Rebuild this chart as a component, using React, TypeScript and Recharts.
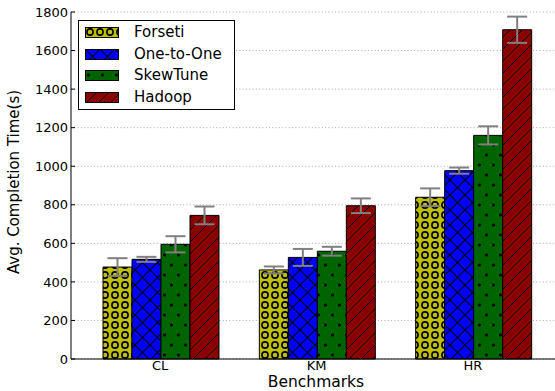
import React from "react"
import { BarChart, Bar, XAxis, YAxis, CartesianGrid, ErrorBar } from "recharts"

const categories = ["CL", "KM", "HR"]
const forseti = [477, 462, 839]
const forsetiErr = [46, 18, 46]
const oneToOne = [517, 527, 977]
const oneToOneErr = [13, 44, 16]
const skewTune = [595, 559, 1160]
const skewTuneErr = [42, 23, 47]
const hadoop = [745, 795, 1708]
const hadoopErr = [46, 38, 68]
const yTicks = [0, 200, 400, 600, 800, 1000, 1200, 1400, 1600, 1800]

const data = categories.map((name, i) => ({
  name,
  forseti: forseti[i],
  forsetiErr: forsetiErr[i],
  oneToOne: oneToOne[i],
  oneToOneErr: oneToOneErr[i],
  skewTune: skewTune[i],
  skewTuneErr: skewTuneErr[i],
  hadoop: hadoop[i],
  hadoopErr: hadoopErr[i],
}))

const series = [
  { key: "forseti", name: "Forseti", pat: "pForseti" },
  { key: "oneToOne", name: "One-to-One", pat: "pOne" },
  { key: "skewTune", name: "SkewTune", pat: "pSkew" },
  { key: "hadoop", name: "Hadoop", pat: "pHadoop" },
]

const font = "'DejaVu Sans', sans-serif"

// hatch fills, roughly like matplotlib's 'o', 'x', '.', '/'
function Patterns({ prefix }: { prefix: string }) {
  return (
    <defs>
      <pattern id={prefix + "pForseti"} width="10" height="10" patternUnits="userSpaceOnUse">
        <rect width="10" height="10" fill="#bfbf00" />
        <circle cx="5" cy="5" r="3.1" fill="none" stroke="#000" strokeWidth="1.6" />
      </pattern>
      <pattern id={prefix + "pOne"} width="15" height="15" patternUnits="userSpaceOnUse">
        <rect width="15" height="15" fill="#0000ff" />
        <path d="M-1,-1 L16,16 M16,-1 L-1,16" stroke="#000" strokeWidth="1.1" />
      </pattern>
      <pattern id={prefix + "pSkew"} width="14" height="20" patternUnits="userSpaceOnUse">
        <rect width="14" height="20" fill="#006400" />
        <circle cx="3.5" cy="5" r="1.6" fill="#000" />
        <circle cx="10.5" cy="15" r="1.6" fill="#000" />
      </pattern>
      <pattern id={prefix + "pHadoop"} width="12" height="12" patternUnits="userSpaceOnUse">
        <rect width="12" height="12" fill="#8b0000" />
        <path d="M-1,13 L13,-1" stroke="#000" strokeWidth="1" />
      </pattern>
    </defs>
  )
}

function LegendBox() {
  return (
    <div
      style={{
        position: "absolute",
        left: 78,
        top: 20,
        width: 155,
        height: 88,
        border: "1px solid #000",
        background: "#fff",
        fontFamily: font,
        fontSize: 15,
      }}
    >
      <svg width={1} height={1} style={{ position: "absolute" }}>
        <Patterns prefix="lg" />
      </svg>
      {series.map((s, i) => (
        <div key={s.key} style={{ position: "absolute", left: 6, top: 5 + i * 21.7, height: 13, display: "flex", alignItems: "center" }}>
          <svg width={34} height={11}>
            <rect x={0.5} y={0.5} width={33} height={10} fill={`url(#lg${s.pat})`} stroke="#000" strokeWidth={1} />
          </svg>
          <span style={{ marginLeft: 15, lineHeight: "13px" }}>{s.name}</span>
        </div>
      ))}
    </div>
  )
}

export default function App() {
  return (
    <div style={{ position: "absolute", left: 0, top: 0, width: 555, height: 391, overflow: "hidden", background: "#fff" }}>
      <BarChart
        width={563}
        height={391}
        data={data}
        margin={{ top: 12, right: 1, bottom: 0, left: 0 }}
        barCategoryGap={21}
        barGap={0}
      >
        <Patterns prefix="" />
        <CartesianGrid vertical={false} stroke="#a8a8a8" strokeDasharray="1 2.3" />
        <XAxis
          dataKey="name"
          height={32}
          padding={{ left: 11, right: 11 }}
          tickSize={-4}
          tickMargin={6}
          axisLine={{ stroke: "#000" }}
          tickLine={{ stroke: "#000" }}
          tick={{ fill: "#000", fontSize: 13, fontFamily: font }}
          label={{
            content: () => (
              <text x={316} y={387} textAnchor="middle" fontSize={15.5} fontFamily={font} fill="#000">
                Benchmarks
              </text>
            ),
          }}
        />
        <XAxis
          xAxisId="top"
          dataKey="name"
          orientation="top"
          height={0}
          padding={{ left: 11, right: 11 }}
          tickSize={-4}
          tickFormatter={() => ""}
          axisLine={{ stroke: "#000" }}
          tickLine={{ stroke: "#000" }}
        />
        <YAxis
          width={71}
          domain={[0, 1800]}
          ticks={yTicks}
          interval={0}
          tickSize={-4}
          tickMargin={7}
          axisLine={{ stroke: "#000" }}
          tickLine={{ stroke: "#000" }}
          tick={{ fill: "#000", fontSize: 13, fontFamily: font }}
          label={{
            content: () => (
              <text
                x={19}
                y={182}
                transform="rotate(-90 19 182)"
                textAnchor="middle"
                fontSize={15}
                fontFamily={font}
                fill="#000"
              >
                Avg. Completion Time(s)
              </text>
            ),
          }}
        />
        {series.map((s) => (
          <Bar
            key={s.key}
            dataKey={s.key}
            name={s.name}
            fill={`url(#${s.pat})`}
            stroke="#000"
            strokeWidth={1}
            isAnimationActive={false}
          >
            <ErrorBar dataKey={s.key + "Err"} width={10} stroke="#808080" strokeWidth={2} />
          </Bar>
        ))}
      </BarChart>
      <LegendBox />
    </div>
  )
}
